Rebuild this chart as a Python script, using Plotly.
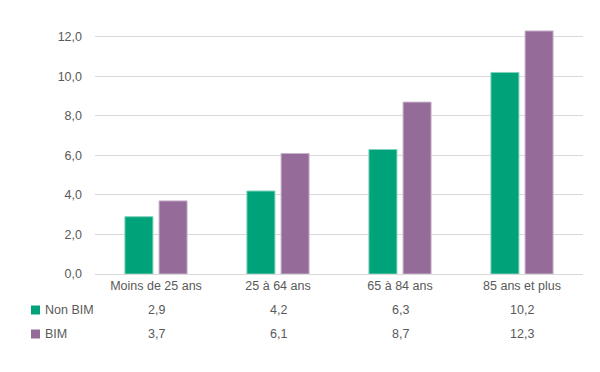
import plotly.graph_objects as go

categories = ["Moins de 25 ans", "25 à 64 ans", "65 à 84 ans", "85 ans et plus"]
non_bim = [2.9, 4.2, 6.3, 10.2]
bim = [3.7, 6.1, 8.7, 12.3]
series_names = ["Non BIM", "BIM"]
colors = ["#00A27A", "#956C99"]
outlines = ["#7FD3BC", "#C9B3CB"]

FONT = "Liberation Sans Narrow, Arial Narrow, Liberation Sans, sans-serif"
GRAY = "#595959"

fig = go.Figure()
for name, vals, c, oc in zip(series_names, [non_bim, bim], colors, outlines):
    fig.add_trace(go.Bar(x=categories, y=vals, name=name, marker=dict(color=c, line=dict(color=oc, width=1)),
                         showlegend=False))

OFF = 8  # page body margin
W, H = 600 - OFF, 372 - OFF
L, R, T, B = 95 - OFF, 17, 27 - OFF, 98
ph = H - T - B
pw = W - L - R

def py(pix):
    return -((pix - OFF) - (H - B)) / ph

def px(pix):
    return ((pix - OFF) - L) / pw

ann = []
shapes = []
rows = [(series_names[0], non_bim, colors[0], 310), (series_names[1], bim, colors[1], 334)]
for name, vals, c, ypix in rows:
    shapes.append(dict(type="rect", xref="paper", yref="paper", x0=px(31), x1=px(40),
                       y0=py(ypix + 4.5), y1=py(ypix - 4.5), fillcolor=c, line=dict(width=0)))
    ann.append(dict(x=px(43), y=py(ypix), xref="paper", yref="paper", text=name, showarrow=False,
                    xanchor="left", yanchor="middle", font=dict(color=GRAY, size=12.5, family=FONT)))
    for cat, v in zip(categories, vals):
        ann.append(dict(x=cat, y=py(ypix), xref="x", yref="paper", text=f"{v:.1f}".replace(".", ","),
                        showarrow=False, xanchor="center", yanchor="middle",
                        font=dict(color=GRAY, size=12.5, family=FONT)))

fig.update_layout(
    width=W, height=H,
    margin=dict(l=L, r=R, t=T, b=B, autoexpand=False),
    plot_bgcolor="white", paper_bgcolor="white",
    barmode="group", bargap=0.44, bargroupgap=0.18,
    separators=", ",
    font=dict(family=FONT, color=GRAY, size=12.5),
    xaxis=dict(showline=True, linecolor="#D9D9D9", linewidth=1, ticks="", showgrid=False,
               tickfont=dict(family=FONT, size=12.5, color=GRAY)),
    yaxis=dict(range=[0, 12.5], dtick=2, tickformat=".1f", showgrid=True, gridcolor="#D9D9D9",
               gridwidth=1, zeroline=False, ticks="", tickfont=dict(family=FONT, size=12.5, color=GRAY),
               ticklabelstandoff=12),
    annotations=ann,
    shapes=shapes,
)

fig.write_html("out.html")
